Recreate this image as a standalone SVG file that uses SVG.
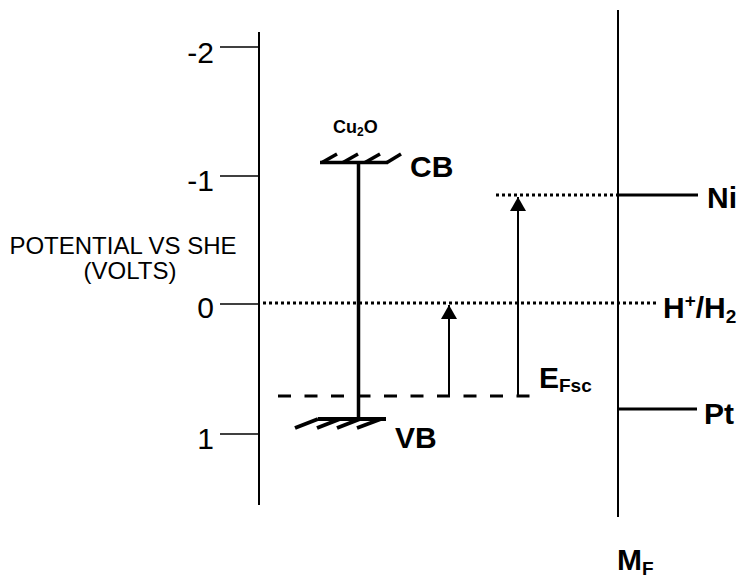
<svg xmlns="http://www.w3.org/2000/svg" width="744" height="581" viewBox="0 0 744 581">
<defs>
<style>
.ax{stroke:#000;stroke-width:2;fill:none}
.tick{stroke:#000;stroke-width:1.5;fill:none}
.thick{stroke:#000;stroke-width:3.5;fill:none;stroke-linecap:butt}
.vbh{stroke:#000;stroke-width:4;fill:none;stroke-linecap:butt}
.lvl{stroke:#000;stroke-width:3;fill:none}
.dot{stroke:#000;stroke-width:3;stroke-dasharray:3 3;fill:none}
.dash{stroke:#000;stroke-width:3;stroke-dasharray:13 13.5;fill:none}
.arr{stroke:#000;stroke-width:2;fill:none}
.num{font-family:"Liberation Sans",Arial,sans-serif;font-size:30px;fill:#000}
.lab{font-family:"Liberation Sans",Arial,sans-serif;font-size:24px;fill:#000}
.b{font-family:"Liberation Sans",Arial,sans-serif;font-weight:bold;font-size:30px;fill:#000}
.sm{font-family:"Liberation Sans",Arial,sans-serif;font-weight:bold;font-size:18px;fill:#000}
.sub{font-size:19px}
</style>
<marker id="ah" viewBox="0 0 14 16" refX="14" refY="8" markerWidth="14" markerHeight="16" markerUnits="userSpaceOnUse" orient="auto">
<path d="M0,0 L14,8 L0,16 Z" fill="#000"/>
</marker>
</defs>
<rect width="744" height="581" fill="#fff"/>

<g id="axis">
<line class="ax" x1="259" y1="32" x2="259" y2="505"/>
<line class="tick" x1="220" y1="47" x2="259" y2="47"/>
<line class="tick" x1="220" y1="176" x2="259" y2="176"/>
<line class="tick" x1="220" y1="304" x2="259" y2="304"/>
<line class="tick" x1="220" y1="434" x2="259" y2="434"/>
<text class="num" x="214" y="63" text-anchor="end">-2</text>
<text class="num" x="214" y="191" text-anchor="end">-1</text>
<text class="num" x="214" y="318" text-anchor="end">0</text>
<text class="num" x="214" y="449" text-anchor="end">1</text>
<text class="lab" x="123" y="254" text-anchor="middle">POTENTIAL VS SHE</text>
<text class="lab" x="130" y="279" text-anchor="middle">(VOLTS)</text>
</g>

<g id="metal">
<line class="ax" x1="618" y1="10" x2="618" y2="517"/>
<text class="b" x="617" y="570">M<tspan class="sub" dy="5">F</tspan></text>
</g>

<g id="cu2o">
<text class="sm" x="333" y="133">Cu<tspan font-size="12" dy="3">2</tspan><tspan dy="-3">O</tspan></text>
<line class="thick" x1="358.5" y1="162" x2="358.5" y2="419"/>
<g id="cb">
<line class="thick" x1="320" y1="162.5" x2="388" y2="162.5"/>
<line class="thick" x1="322" y1="162.5" x2="337" y2="154"/>
<line class="thick" x1="343" y1="162.5" x2="358" y2="154"/>
<line class="thick" x1="365" y1="162.5" x2="380" y2="154"/>
<line class="thick" x1="387" y1="162.5" x2="401" y2="154"/>
<text class="b" x="410" y="177">CB</text>
</g>
<g id="vb">
<line class="vbh" x1="318" y1="419" x2="386" y2="419"/>
<line class="vbh" x1="295" y1="428" x2="318" y2="419"/>
<line class="vbh" x1="317" y1="428" x2="340" y2="419"/>
<line class="vbh" x1="337" y1="428" x2="360" y2="419"/>
<line class="vbh" x1="357" y1="428" x2="381" y2="419"/>
<text class="b" x="395" y="448">VB</text>
</g>
</g>

<g id="ni">
<line class="lvl" x1="618" y1="195" x2="698" y2="195"/>
<text class="b" x="707" y="208">Ni</text>
</g>
<g id="pt">
<line class="lvl" x1="618" y1="409" x2="697" y2="409"/>
<text class="b" x="704" y="424">Pt</text>
</g>
<g id="hh2">
<text class="b" x="663" y="318">H<tspan class="sub" dy="-11">+</tspan><tspan dy="11">/H</tspan><tspan class="sub" dy="5">2</tspan></text>
</g>
<g id="efsc">
<text class="b" x="539" y="388">E<tspan class="sub" dy="4">Fsc</tspan></text>
</g>

<g id="connectors">
<line class="dot" x1="263" y1="303" x2="658" y2="303"/>
<line class="dot" x1="496" y1="195" x2="618" y2="195"/>
<line class="dash" x1="278" y1="396" x2="542" y2="396"/>
<line class="arr" x1="449" y1="396" x2="449" y2="305" marker-end="url(#ah)"/>
<line class="arr" x1="518" y1="396" x2="518" y2="197" marker-end="url(#ah)"/>
</g>
</svg>
